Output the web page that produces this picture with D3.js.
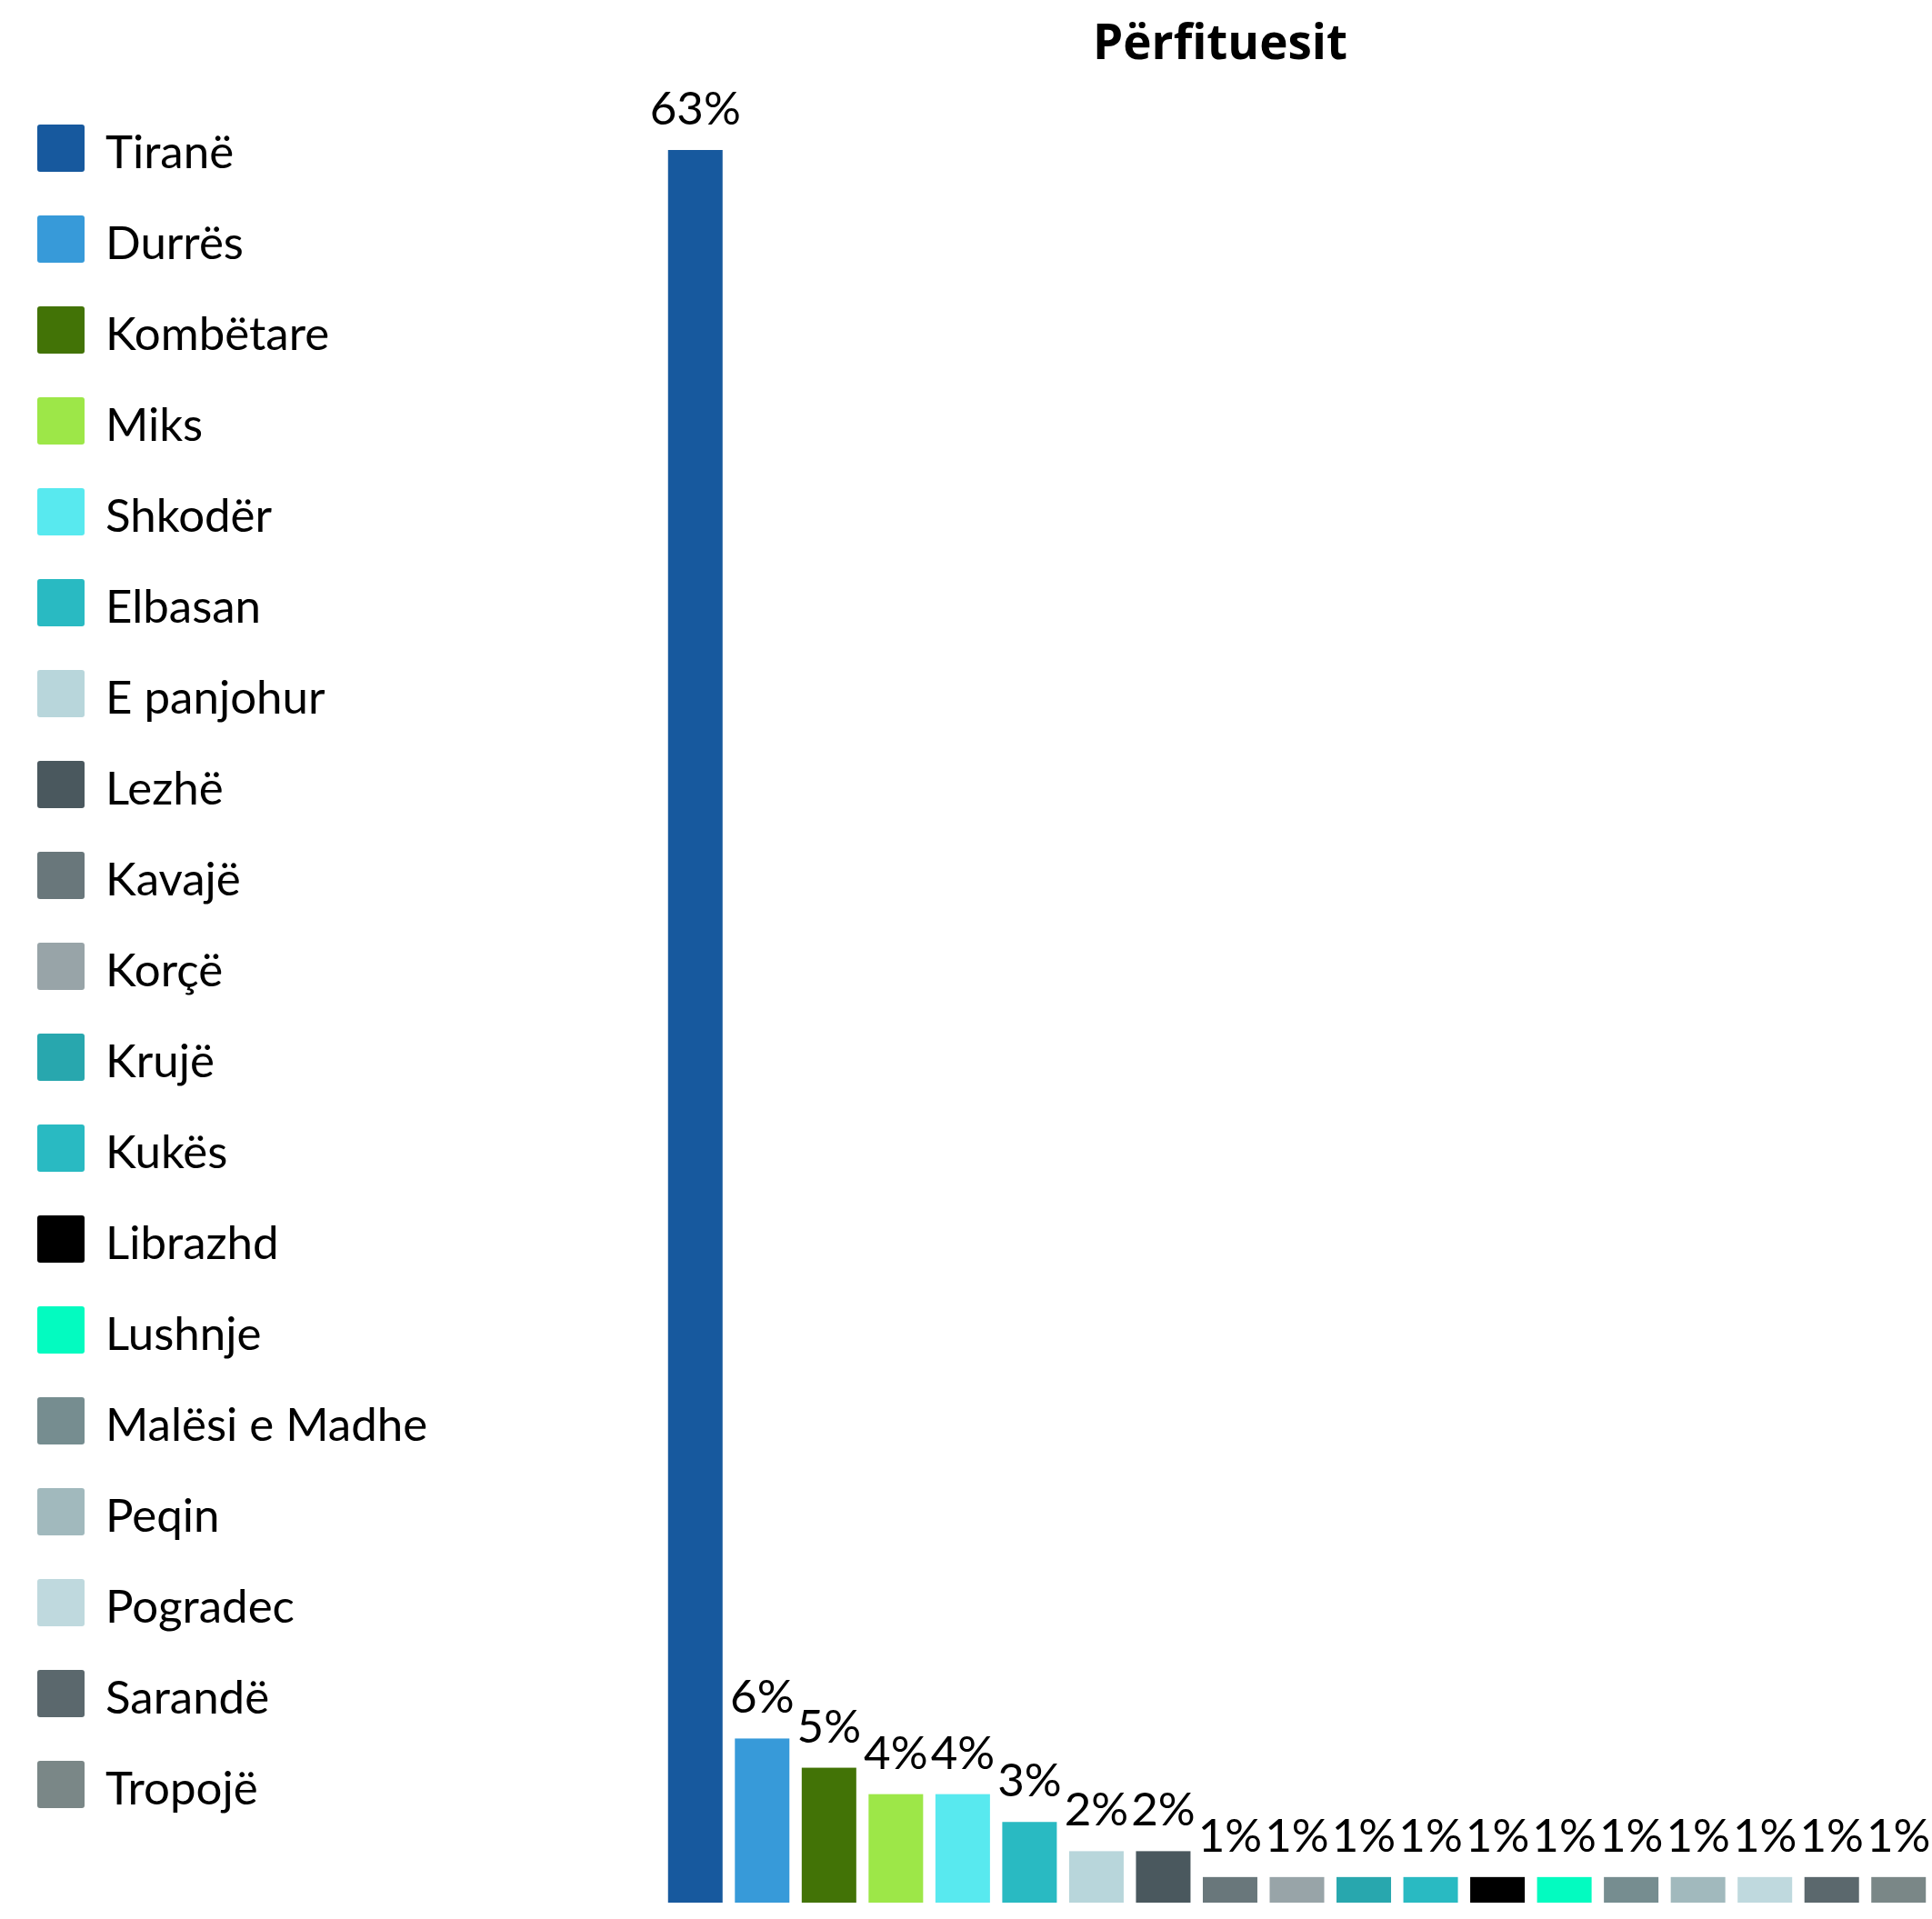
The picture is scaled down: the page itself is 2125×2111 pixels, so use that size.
<!DOCTYPE html>
<html>
<head>
<meta charset="utf-8">
<script src="https://cdn.jsdelivr.net/npm/d3@7"></script>
<style>
  body { margin: 0; background: #fff; }
  text { font-family: Lato, "Open Sans", sans-serif; fill: #000; }
</style>
</head>
<body>
<svg id="chart" width="2125" height="2111"></svg>
<script>
// --- datos ---
const categories = ["Tiranë", "Durrës", "Kombëtare", "Miks", "Shkodër", "Elbasan", "E panjohur",
  "Lezhë", "Kavajë", "Korçë", "Krujë", "Kukës", "Librazhd", "Lushnje", "Malësi e Madhe",
  "Peqin", "Pogradec", "Sarandë", "Tropojë"];
const values = [63.0, 5.9, 4.85, 3.9, 3.9, 2.9, 1.85, 1.85, 0.92, 0.92, 0.92, 0.92, 0.92,
  0.92, 0.92, 0.92, 0.92, 0.92, 0.92];
const colors = ["#17599e", "#379ad9", "#427306", "#9de748", "#58e9ef", "#29bac2", "#b8d6db",
  "#4a585e", "#69777b", "#98a4a8", "#28a7ae", "#29bac2", "#000000", "#03fbc0", "#768d90",
  "#a1b9bd", "#bfd9de", "#5b686d", "#7a8787"];
const title = "Përfituesit";

const data = categories.map((c, i) => ({ name: c, value: values[i], color: colors[i] }));

const svg = d3.select("#chart");

// --- escalas ---
const x = d3.scaleBand()
    .domain(categories)
    .range([728, 2125])
    .paddingInner(0.184)
    .paddingOuter(0.092);

const y = d3.scaleLinear()
    .domain([0, 63.0])
    .range([2093, 165]);

// --- titulo ---
svg.append("text")
    .attr("x", 1342)
    .attr("y", 65)
    .attr("text-anchor", "middle")
    .style("font-family", "'Open Sans', sans-serif")
    .style("font-weight", 700)
    .style("font-size", "53px")
    .text(title);

// --- barras ---
svg.append("g")
  .selectAll("rect")
  .data(data)
  .join("rect")
    .attr("x", d => x(d.name))
    .attr("width", x.bandwidth())
    .attr("y", d => y(d.value))
    .attr("height", d => y(0) - y(d.value))
    .attr("fill", d => d.color);

// etiquetas de valor
svg.append("g")
  .selectAll("text")
  .data(data)
  .join("text")
    .attr("x", d => x(d.name) + x.bandwidth() / 2)
    .attr("y", d => y(d.value) - 28)
    .attr("text-anchor", "middle")
    .style("font-size", "51px")
    .text(d => Math.round(d.value) + "%");

// --- leyenda ---
const ly = d3.scaleBand()
    .domain(categories)
    .range([137, 137 + categories.length * 100]);

const legend = svg.append("g")
  .selectAll("g")
  .data(data)
  .join("g")
    .attr("transform", d => `translate(41, ${ly(d.name)})`);

legend.append("rect")
    .attr("width", 52)
    .attr("height", 52)
    .attr("rx", 3)
    .attr("fill", d => d.color);

legend.append("text")
    .attr("x", 75)
    .attr("y", 48)
    .style("font-size", "51px")
    .text(d => d.name);
</script>
</body>
</html>
